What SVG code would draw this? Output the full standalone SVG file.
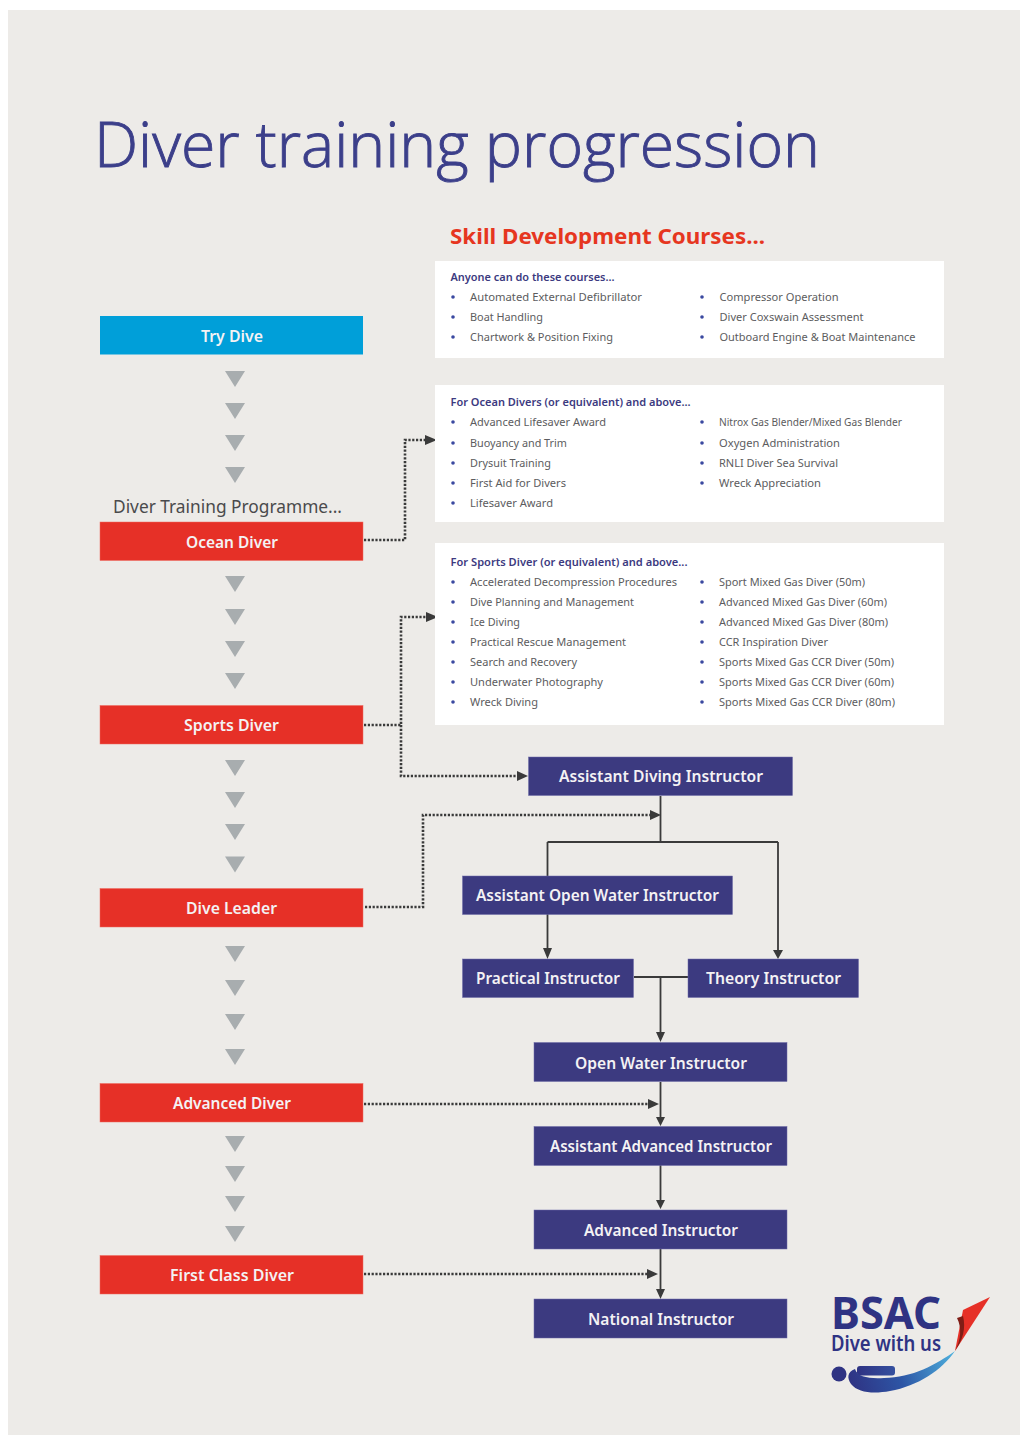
<svg xmlns="http://www.w3.org/2000/svg" width="1020" height="1435" viewBox="0 0 1020 1435">
<style>
text{font-family:"Noto Sans","Open Sans",sans-serif}
.nt{font-size:15.5px;font-weight:600;fill:#f4f2f4;text-anchor:middle}
.red{fill:#e63027;stroke:#ef6a5e;stroke-width:.5}
.navy{fill:#3c3a80;stroke:#6d6aa6;stroke-width:.5}
.panel{fill:#fff}
.h{font-size:11px;font-weight:600;fill:#3c3a80}
.i{font-size:11px;fill:#5c5c5e}
.b{fill:#3a49a0}
.tri{fill:#a8adaf}
.dot{fill:none;stroke:#3a3a3a;stroke-width:2.6;stroke-dasharray:2.2 1.6}
.sol{fill:none;stroke:#3a3a3a;stroke-width:1.8}
.hd{fill:#3a3a3a}
</style>
<defs>
<linearGradient id="sw" x1="850" y1="1385" x2="955" y2="1350" gradientUnits="userSpaceOnUse"><stop offset="0" stop-color="#2f3383"/><stop offset=".45" stop-color="#2d55a5"/><stop offset="1" stop-color="#4fb3df"/></linearGradient>
<linearGradient id="pill" x1="857" y1="0" x2="895" y2="0" gradientUnits="userSpaceOnUse"><stop offset="0" stop-color="#2f3383"/><stop offset="1" stop-color="#35509f"/></linearGradient>
</defs>
<rect width="1020" height="1435" fill="#fff"/>
<rect x="8" y="10" width="1012" height="1425" fill="#edebe8"/>
<text id="title" x="94" y="167" font-size="63" font-weight="300" fill="#3c3f8a" stroke="#3c3f8a" stroke-width=".9" style="font-family:'Open Sans','Noto Sans',sans-serif" textLength="726" lengthAdjust="spacingAndGlyphs">Diver training progression</text>
<text id="skill-title" x="450" y="244" font-size="22" font-weight="700" fill="#e6361f" textLength="315" lengthAdjust="spacingAndGlyphs">Skill Development Courses...</text>
<text id="dtp-label" x="113" y="513" font-size="17.5" fill="#4a4a4c" textLength="229" lengthAdjust="spacingAndGlyphs">Diver Training Programme...</text>

<g id="triangles" class="tri">
<path d="M225 371h20l-10 16zM225 403h20l-10 16zM225 435h20l-10 16zM225 467h20l-10 16z"/>
<path d="M225 576h20l-10 16zM225 609h20l-10 16zM225 641h20l-10 16zM225 673h20l-10 16z"/>
<path d="M225 760h20l-10 16zM225 792h20l-10 16zM225 824h20l-10 16zM225 856.500h20l-10 16z"/>
<path d="M225 946h20l-10 16zM225 980h20l-10 16zM225 1014h20l-10 16zM225 1049h20l-10 16z"/>
<path d="M225 1136h20l-10 16zM225 1166h20l-10 16zM225 1196h20l-10 16zM225 1226h20l-10 16z"/>
</g>

<g id="connectors">
<path class="dot" d="M364 540H405V440H425"/>
<path class="dot" d="M364 725H401V617H426"/>
<path class="dot" d="M401 725V776H518"/>
<path class="dot" d="M365 907H423V815H650"/>
<path class="dot" d="M364 1104H648"/>
<path class="dot" d="M364 1274H647"/>
<path class="hd" d="M425 435l12 5-12 5zM426 612l12 5-12 5zM517 771l11 5-11 5zM650 810l11 5-11 5zM648 1099l11 5-11 5zM647 1269l11 5-11 5z"/>
<path class="sol" d="M660.500 796V842M547.500 842H778M547.500 842V876M547.500 914V948M778 842V950M634 977H688M660.500 977V1033M660.500 1082V1117M660.500 1165V1201M660.500 1249V1290"/>
<path class="hd" d="M543 948h9l-4.500 11zM773 950h10l-5 9zM656 1032h9l-4.500 10zM656 1117h9l-4.500 9zM656 1200h9l-4.500 9zM656 1289h9l-4.500 10z"/>
</g>

<g id="try-dive"><rect x="100" y="316" width="263" height="38.500" fill="#009fd9"/><text class="nt" x="232" y="342" textLength="62" lengthAdjust="spacingAndGlyphs">Try Dive</text></g>
<g id="ocean-diver"><rect class="red" x="100" y="522" width="263" height="38.500"/><text class="nt" x="232" y="548" textLength="92" lengthAdjust="spacingAndGlyphs">Ocean Diver</text></g>
<g id="sports-diver"><rect class="red" x="100" y="705.500" width="263" height="38.500"/><text class="nt" x="231.500" y="731" textLength="95" lengthAdjust="spacingAndGlyphs">Sports Diver</text></g>
<g id="dive-leader"><rect class="red" x="100" y="888.500" width="263" height="38.500"/><text class="nt" x="231.500" y="914" textLength="91" lengthAdjust="spacingAndGlyphs">Dive Leader</text></g>
<g id="advanced-diver"><rect class="red" x="100" y="1083.500" width="263" height="38.500"/><text class="nt" x="232" y="1109" textLength="118" lengthAdjust="spacingAndGlyphs">Advanced Diver</text></g>
<g id="first-class-diver"><rect class="red" x="100" y="1255.500" width="263" height="38.500"/><text class="nt" x="232" y="1281" textLength="124" lengthAdjust="spacingAndGlyphs">First Class Diver</text></g>

<g id="assistant-diving-instructor"><rect class="navy" x="528.500" y="757" width="264" height="38.500"/><text class="nt" x="661" y="782" textLength="204" lengthAdjust="spacingAndGlyphs">Assistant Diving Instructor</text></g>
<g id="assistant-open-water-instructor"><rect class="navy" x="462.500" y="876" width="270" height="38.500"/><text class="nt" x="597.500" y="901" textLength="243" lengthAdjust="spacingAndGlyphs">Assistant Open Water Instructor</text></g>
<g id="practical-instructor"><rect class="navy" x="462.500" y="959" width="171" height="38.500"/><text class="nt" x="548" y="984" textLength="144" lengthAdjust="spacingAndGlyphs">Practical Instructor</text></g>
<g id="theory-instructor"><rect class="navy" x="688" y="959" width="170.500" height="38.500"/><text class="nt" x="773.500" y="984" textLength="135" lengthAdjust="spacingAndGlyphs">Theory Instructor</text></g>
<g id="open-water-instructor"><rect class="navy" x="534" y="1042.500" width="253" height="39"/><text class="nt" x="661" y="1068.500" textLength="172" lengthAdjust="spacingAndGlyphs">Open Water Instructor</text></g>
<g id="assistant-advanced-instructor"><rect class="navy" x="534" y="1126.500" width="253" height="39"/><text class="nt" x="661" y="1152" textLength="222" lengthAdjust="spacingAndGlyphs">Assistant Advanced Instructor</text></g>
<g id="advanced-instructor"><rect class="navy" x="534" y="1210" width="253" height="39"/><text class="nt" x="661" y="1236" textLength="154" lengthAdjust="spacingAndGlyphs">Advanced Instructor</text></g>
<g id="national-instructor"><rect class="navy" x="534" y="1299" width="253" height="39"/><text class="nt" x="661" y="1325" textLength="146" lengthAdjust="spacingAndGlyphs">National Instructor</text></g>

<g id="panel-anyone">
<rect class="panel" x="435" y="261" width="509" height="97"/>
<text class="h" x="450.500" y="281" textLength="164" lengthAdjust="spacingAndGlyphs">Anyone can do these courses...</text>
<g class="b"><circle cx="453" cy="297" r="1.800"/><circle cx="453" cy="317" r="1.800"/><circle cx="453" cy="337" r="1.800"/><circle cx="702" cy="297" r="1.800"/><circle cx="702" cy="317" r="1.800"/><circle cx="702" cy="337" r="1.800"/></g>
<text class="i" x="470" y="301" textLength="172" lengthAdjust="spacingAndGlyphs">Automated External Defibrillator</text>
<text class="i" x="470" y="321" textLength="73" lengthAdjust="spacingAndGlyphs">Boat Handling</text>
<text class="i" x="470" y="341" textLength="143" lengthAdjust="spacingAndGlyphs">Chartwork &amp; Position Fixing</text>
<text class="i" x="719.500" y="301" textLength="119" lengthAdjust="spacingAndGlyphs">Compressor Operation</text>
<text class="i" x="719.500" y="321" textLength="144" lengthAdjust="spacingAndGlyphs">Diver Coxswain Assessment</text>
<text class="i" x="719.500" y="341" textLength="196" lengthAdjust="spacingAndGlyphs">Outboard Engine &amp; Boat Maintenance</text>
</g>

<g id="panel-ocean">
<rect class="panel" x="435" y="385" width="509" height="137"/>
<text class="h" x="450.500" y="406" textLength="240" lengthAdjust="spacingAndGlyphs">For Ocean Divers (or equivalent) and above...</text>
<g class="b"><circle cx="453" cy="422" r="1.800"/><circle cx="453" cy="443" r="1.800"/><circle cx="453" cy="463" r="1.800"/><circle cx="453" cy="483" r="1.800"/><circle cx="453" cy="503" r="1.800"/><circle cx="702" cy="422" r="1.800"/><circle cx="702" cy="443" r="1.800"/><circle cx="702" cy="463" r="1.800"/><circle cx="702" cy="483" r="1.800"/></g>
<text class="i" x="470" y="426" textLength="136" lengthAdjust="spacingAndGlyphs">Advanced Lifesaver Award</text>
<text class="i" x="470" y="447" textLength="97" lengthAdjust="spacingAndGlyphs">Buoyancy and Trim</text>
<text class="i" x="470" y="467" textLength="81" lengthAdjust="spacingAndGlyphs">Drysuit Training</text>
<text class="i" x="470" y="487" textLength="96" lengthAdjust="spacingAndGlyphs">First Aid for Divers</text>
<text class="i" x="470" y="507" textLength="83" lengthAdjust="spacingAndGlyphs">Lifesaver Award</text>
<text class="i" x="719" y="426" textLength="183" lengthAdjust="spacingAndGlyphs">Nitrox Gas Blender/Mixed Gas Blender</text>
<text class="i" x="719" y="447" textLength="121" lengthAdjust="spacingAndGlyphs">Oxygen Administration</text>
<text class="i" x="719" y="467" textLength="119" lengthAdjust="spacingAndGlyphs">RNLI Diver Sea Survival</text>
<text class="i" x="719" y="487" textLength="102" lengthAdjust="spacingAndGlyphs">Wreck Appreciation</text>
</g>

<g id="panel-sports">
<rect class="panel" x="435" y="543" width="509" height="182"/>
<text class="h" x="450.500" y="566" textLength="237" lengthAdjust="spacingAndGlyphs">For Sports Diver (or equivalent) and above...</text>
<g class="b"><circle cx="453" cy="582" r="1.800"/><circle cx="453" cy="602" r="1.800"/><circle cx="453" cy="622" r="1.800"/><circle cx="453" cy="642" r="1.800"/><circle cx="453" cy="662" r="1.800"/><circle cx="453" cy="682" r="1.800"/><circle cx="453" cy="702" r="1.800"/><circle cx="702" cy="582" r="1.800"/><circle cx="702" cy="602" r="1.800"/><circle cx="702" cy="622" r="1.800"/><circle cx="702" cy="642" r="1.800"/><circle cx="702" cy="662" r="1.800"/><circle cx="702" cy="682" r="1.800"/><circle cx="702" cy="702" r="1.800"/></g>
<text class="i" x="470" y="586" textLength="207" lengthAdjust="spacingAndGlyphs">Accelerated Decompression Procedures</text>
<text class="i" x="470" y="606" textLength="164" lengthAdjust="spacingAndGlyphs">Dive Planning and Management</text>
<text class="i" x="470" y="626" textLength="50" lengthAdjust="spacingAndGlyphs">Ice Diving</text>
<text class="i" x="470" y="646" textLength="156" lengthAdjust="spacingAndGlyphs">Practical Rescue Management</text>
<text class="i" x="470" y="666" textLength="107" lengthAdjust="spacingAndGlyphs">Search and Recovery</text>
<text class="i" x="470" y="686" textLength="133" lengthAdjust="spacingAndGlyphs">Underwater Photography</text>
<text class="i" x="470" y="706" textLength="68" lengthAdjust="spacingAndGlyphs">Wreck Diving</text>
<text class="i" x="719" y="586" textLength="146" lengthAdjust="spacingAndGlyphs">Sport Mixed Gas Diver (50m)</text>
<text class="i" x="719" y="606" textLength="168" lengthAdjust="spacingAndGlyphs">Advanced Mixed Gas Diver (60m)</text>
<text class="i" x="719" y="626" textLength="169" lengthAdjust="spacingAndGlyphs">Advanced Mixed Gas Diver (80m)</text>
<text class="i" x="719" y="646" textLength="109" lengthAdjust="spacingAndGlyphs">CCR Inspiration Diver</text>
<text class="i" x="719" y="666" textLength="175" lengthAdjust="spacingAndGlyphs">Sports Mixed Gas CCR Diver (50m)</text>
<text class="i" x="719" y="686" textLength="175" lengthAdjust="spacingAndGlyphs">Sports Mixed Gas CCR Diver (60m)</text>
<text class="i" x="719" y="706" textLength="176" lengthAdjust="spacingAndGlyphs">Sports Mixed Gas CCR Diver (80m)</text>
</g>

<g id="logo">
<text x="831" y="1329" font-size="44" font-weight="700" fill="#2f3383" textLength="110" lengthAdjust="spacingAndGlyphs">BSAC</text>
<text x="831" y="1351" font-size="22" font-weight="600" fill="#2f3383" textLength="110" lengthAdjust="spacingAndGlyphs">Dive with us</text>
<circle cx="839" cy="1374" r="7.500" fill="#2f3383"/>
<rect x="857" y="1366" width="38" height="9.500" rx="3" fill="url(#pill)"/>
<path d="M855 1369C847 1372 847 1378 851 1384C858 1393 874 1394 890 1391C918 1386 942 1370 955 1351C937 1364 912 1378 884 1378C870 1379 857 1377 855 1369Z" fill="url(#sw)"/>
<path d="M955 1351L963 1310L990 1297Z" fill="#e63027"/>
<path d="M955 1351C961 1340 962 1328 957 1318L963 1316C966 1328 963 1340 955 1351Z" fill="#7f1d16"/>
</g>
</svg>
